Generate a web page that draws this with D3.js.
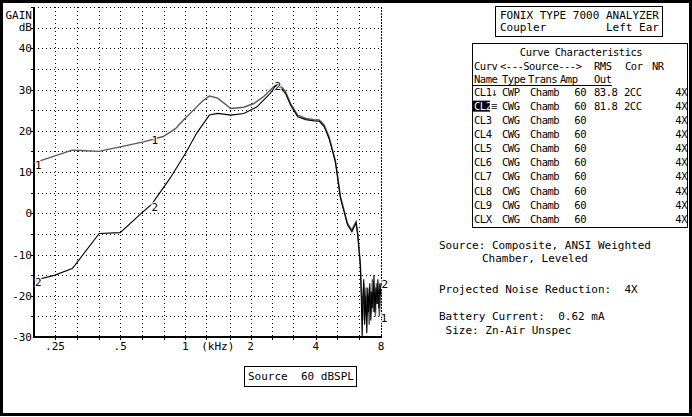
<!DOCTYPE html>
<html>
<head>
<meta charset="utf-8">
<script src="https://cdn.jsdelivr.net/npm/d3@7"></script>
<style>
  html, body { margin: 0; padding: 0; background: #fff; }
  svg { display: block; }
  text { font-family: "DejaVu Sans Mono", "Liberation Mono", monospace; font-size: 11px; fill: #000; white-space: pre; }
  .tbl text { font-size: 10.5px; letter-spacing: -0.5px; }
</style>
</head>
<body>
<div id="chart"></div>
<script>
// frequency response chart, FONIX 7000 style printout

/* data */
var gridFreqs = [0.25, 0.315, 0.4, 0.5, 0.63, 0.8, 1, 1.25, 1.6, 2, 2.5, 3.15, 4, 5, 6.3];
var freqTicks = [0.25, 0.5, 1, 2, 4, 8];
var freqTickLabels = [".25", ".5", "1", "2", "4", "8"];
var gainTicks = [40, 30, 20, 10, 0, -10, -20, -30];
var gainGrid = [45, 40, 35, 30, 25, 20, 15, 10, 5, 0, -5, -10, -15, -20, -25];

var curve1Freq = [0.2, 0.3, 0.33, 0.4, 0.45, 0.5, 0.64, 0.79, 0.9, 0.98, 1.09, 1.2, 1.29, 1.41, 1.62, 1.86, 2.07, 2.3, 2.56, 2.65, 2.8, 2.9, 3.06, 3.3, 3.6, 3.93, 4.15, 4.37, 4.6, 4.78, 4.92, 5.0, 5.2, 5.4, 5.6, 5.87, 6.0, 6.14, 6.25, 6.42,
  6.5, 6.58, 6.66, 6.74, 6.82, 6.9, 6.98, 7.06, 7.14, 7.22, 7.3, 7.38, 7.46, 7.54, 7.62, 7.7, 7.78, 7.86, 7.94, 8.0];
var curve1Gain = [12.2, 15.3, 15.2, 15.0, 15.6, 16.1, 17.3, 18.6, 20.5, 22.6, 25.0, 27.2, 28.4, 27.9, 25.4, 25.7, 26.6, 28.3, 30.7, 31.3, 30.5, 29.5, 26.6, 23.8, 23.0, 22.7, 22.6, 21.4, 18.6, 15.3, 12.9, 10.5, 4.0, 0.8, -2.4, -4.1, -3.0, -2.0, -5.0, -12.1,
  -19, -26, -17, -23, -18, -25, -20, -27, -19, -23, -16, -24, -20, -25, -17, -22, -19, -25, -21, -17];

var curve2Freq = [0.2, 0.25, 0.3, 0.31, 0.4, 0.5, 0.62, 0.7, 0.85, 1.0, 1.13, 1.29, 1.41, 1.62, 1.86, 2.14, 2.47, 2.62, 2.8, 2.9, 3.06, 3.3, 3.6, 3.93, 4.15, 4.37, 4.6, 4.78, 4.92, 5.0, 5.2, 5.4, 5.6, 5.87, 6.0, 6.14, 6.25, 6.42,
  6.47, 6.55, 6.6, 6.66, 6.72, 6.8, 6.88, 6.95, 7.02, 7.1, 7.18, 7.26, 7.34, 7.42, 7.5, 7.58, 7.66, 7.74, 7.82, 7.9, 8.0];
var curve2Gain = [-16.3, -15.0, -13.4, -12.5, -4.9, -4.7, -0.2, 2.2, 8.5, 14.5, 19.5, 23.8, 24.2, 23.8, 24.2, 25.8, 29.1, 31.0, 30.0, 29.0, 26.2, 23.4, 22.7, 22.4, 22.3, 21.0, 18.2, 15.0, 12.5, 10.0, 3.6, 0.4, -2.8, -4.5, -3.4, -2.4, -5.5, -12.5,
  -18, -30, -21, -16, -27, -20, -29, -18, -24, -17, -26, -19, -23, -15, -24, -18, -22, -16, -23, -17, -20];

/* curve number markers: [freq, gain, label, curve] */
var curveMarks = [
  [0.2, 11.8, "1", 1], [0.69, 17.8, "1", 1], [7.9, -25.3, "1", 1],
  [0.2, -16.6, "2", 2], [0.69, 1.6, "2", 2], [2.55, 30.8, "2", 2], [7.95, -17.2, "2", 2]
];

/* right-hand panel text */
var headerLines = ["FONIX TYPE 7000 ANALYZER", "Coupler         Left Ear"];
var curveNames = ["CL1", "CL2", "CL3", "CL4", "CL5", "CL6", "CL7", "CL8", "CL9", "CLX"];
var curveFlags = ["\u2193", "\u2261", "", "", "", "", "", "", "", ""];
var curveTypes = ["CWP", "CWG", "CWG", "CWG", "CWG", "CWG", "CWG", "CWG", "CWG", "CWG"];
var curveTrans = ["Chamb", "Chamb", "Chamb", "Chamb", "Chamb", "Chamb", "Chamb", "Chamb", "Chamb", "Chamb"];
var curveAmp = ["60", "60", "60", "60", "60", "60", "60", "60", "60", "60"];
var curveRms = ["83.8", "81.8", "", "", "", "", "", "", "", ""];
var curveCor = ["2CC", "2CC", "", "", "", "", "", "", "", ""];
var curveNr = ["4X", "4X", "4X", "4X", "4X", "4X", "4X", "4X", "4X", "4X"];
var activeCurve = 1;
var notes = [
  ["Source: Composite, ANSI Weighted", 439, 249],
  ["Chamber, Leveled", 482, 262],
  ["Projected Noise Reduction:  4X", 439, 293],
  ["Battery Current:  0.62 mA", 439, 320],
  [" Size: Zn-Air Unspec", 439, 334]
];

var W = 692, H = 417;
var plot = {left: 34, right: 381, top: 7, bottom: 337};

var svg = d3.select("#chart").append("svg")
    .attr("width", W)
    .attr("height", H);

/* outer frame */
svg.append("rect")
    .attr("x", 1.5).attr("y", 1.5)
    .attr("width", W - 3).attr("height", H - 4)
    .attr("fill", "none")
    .attr("stroke", "#000")
    .attr("stroke-width", 3);

var x = d3.scaleLog().domain([0.2, 8]).range([plot.left, plot.right]);
var y = d3.scaleLinear().domain([-30, 50]).range([plot.bottom, plot.top]);

/* dotted grid */
var grid = svg.append("g").attr("stroke", "#000").attr("stroke-width", 1).attr("stroke-dasharray", "1,3");
grid.selectAll("line.v").data(gridFreqs).enter().append("line")
    .attr("x1", function (d) { return Math.round(x(d)) + 0.5; })
    .attr("x2", function (d) { return Math.round(x(d)) + 0.5; })
    .attr("y1", plot.top).attr("y2", plot.bottom);
grid.selectAll("line.h").data(gainGrid).enter().append("line")
    .attr("x1", plot.left).attr("x2", plot.right)
    .attr("y1", function (d) { return Math.round(y(d)) + 0.5; })
    .attr("y2", function (d) { return Math.round(y(d)) + 0.5; });
/* top and right edges */
svg.append("line").attr("x1", plot.left).attr("x2", plot.right).attr("y1", plot.top + 0.5).attr("y2", plot.top + 0.5)
    .attr("stroke", "#000").attr("stroke-dasharray", "1,3");
svg.append("line").attr("x1", plot.right + 0.5).attr("x2", plot.right + 0.5).attr("y1", plot.top).attr("y2", plot.bottom)
    .attr("stroke", "#000").attr("stroke-dasharray", "2,1");

/* axes lines with little ticks */
svg.append("line").attr("x1", plot.left).attr("x2", plot.left).attr("y1", plot.top).attr("y2", plot.bottom + 1)
    .attr("stroke", "#000").attr("stroke-width", 2);
svg.append("line").attr("x1", plot.left).attr("x2", plot.right + 1).attr("y1", plot.bottom).attr("y2", plot.bottom)
    .attr("stroke", "#000").attr("stroke-width", 2);
svg.append("g").selectAll("line").data(gainGrid.concat([50])).enter().append("line")
    .attr("x1", plot.left - 3).attr("x2", plot.left)
    .attr("y1", function (d) { return Math.round(y(d)) + 0.5; })
    .attr("y2", function (d) { return Math.round(y(d)) + 0.5; })
    .attr("stroke", "#000");
svg.append("g").selectAll("line").data(gridFreqs).enter().append("line")
    .attr("x1", function (d) { return Math.round(x(d)) + 0.5; })
    .attr("x2", function (d) { return Math.round(x(d)) + 0.5; })
    .attr("y1", plot.bottom).attr("y2", plot.bottom + 3)
    .attr("stroke", "#000");

/* tick labels */
svg.append("g").selectAll("text").data(gainTicks).enter().append("text")
    .attr("x", plot.left - 2)
    .attr("y", function (d) { return y(d) + 4; })
    .attr("text-anchor", "end")
    .text(function (d) { return d; });
svg.append("g").selectAll("text").data(freqTicks).enter().append("text")
    .attr("x", function (d) { return x(d); })
    .attr("y", plot.bottom + 13)
    .attr("text-anchor", "middle")
    .text(function (d, i) { return freqTickLabels[i]; });
svg.append("text").attr("x", x(1.41)).attr("y", plot.bottom + 13).attr("text-anchor", "middle").text("(kHz)");
svg.append("text").attr("x", plot.left - 2).attr("y", 19).attr("text-anchor", "end").text("GAIN");
svg.append("text").attr("x", plot.left - 2).attr("y", 31).attr("text-anchor", "end").text("dB");

/* curves */
function pairs(fs, gs) {
  return fs.map(function (f, i) { return [f, gs[i]]; });
}
var line = d3.line()
    .x(function (d) { return x(d[0]); })
    .y(function (d) { return y(d[1]); });
svg.append("path")
    .attr("d", line(pairs(curve1Freq, curve1Gain)))
    .attr("fill", "none")
    .attr("stroke", "#5a5a5a")
    .attr("stroke-width", 1.4);
svg.append("path")
    .attr("d", line(pairs(curve2Freq, curve2Gain)))
    .attr("fill", "none")
    .attr("stroke", "#000")
    .attr("stroke-width", 1.1);

/* curve number markers */
svg.append("g").selectAll("text").data(curveMarks).enter().append("text")
    .attr("x", function (d) { return x(d[0]) + 1; })
    .attr("y", function (d) { return y(d[1]) + 4; })
    .attr("stroke", "#fff")
    .attr("stroke-width", 2)
    .attr("paint-order", "stroke")
    .text(function (d) { return d[2]; });

/* source level box */
svg.append("rect").attr("x", 244.5).attr("y", 366.5).attr("width", 112).attr("height", 20)
    .attr("fill", "none").attr("stroke", "#000");
svg.append("text").attr("x", 248).attr("y", 380).text("Source  60 dBSPL");

/* analyzer header box */
svg.append("rect").attr("x", 495.5).attr("y", 6.5).attr("width", 167).attr("height", 30)
    .attr("fill", "none").attr("stroke", "#000");
svg.append("g").selectAll("text").data(headerLines).enter().append("text")
    .attr("x", 500)
    .attr("y", function (d, i) { return 19 + i * 12; })
    .text(function (d) { return d; });

/* curve characteristics table */
var table = svg.append("g").attr("class", "tbl");
table.append("rect").attr("x", 472.5).attr("y", 43.5).attr("width", 215).attr("height", 184)
    .attr("fill", "none").attr("stroke", "#000");
table.append("text").attr("x", 581).attr("y", 56).attr("text-anchor", "middle").text("Curve Characteristics");
var headRow1 = [["Curv", 474], ["<---Source--->", 500], ["RMS", 594], ["Cor", 625], ["NR", 652]];
var headRow2 = [["Name", 474], ["Type", 502], ["Trans", 528], ["Amp", 560], ["Out", 594]];
table.append("g").selectAll("text").data(headRow1).enter().append("text")
    .attr("x", function (d) { return d[1]; }).attr("y", 70)
    .text(function (d) { return d[0]; });
table.append("g").selectAll("text").data(headRow2).enter().append("text")
    .attr("x", function (d) { return d[1]; }).attr("y", 83)
    .text(function (d) { return d[0]; });
table.append("line").attr("x1", 473).attr("x2", 612).attr("y1", 85.5).attr("y2", 85.5).attr("stroke", "#000");

var rowY = function (i) { return 95.5 + i * 14.15; };
/* highlighted current curve */
table.append("rect").attr("x", 473).attr("y", rowY(activeCurve) - 9).attr("width", 17).attr("height", 11).attr("fill", "#000");

var cols = [
  {vals: curveNames, x: 474, anchor: "start"},
  {vals: curveFlags, x: 491, anchor: "start"},
  {vals: curveTypes, x: 502, anchor: "start"},
  {vals: curveTrans, x: 530, anchor: "start"},
  {vals: curveAmp, x: 586, anchor: "end"},
  {vals: curveRms, x: 594, anchor: "start"},
  {vals: curveCor, x: 624, anchor: "start"},
  {vals: curveNr, x: 687, anchor: "end"}
];
cols.forEach(function (c) {
  table.append("g").selectAll("text").data(c.vals).enter().append("text")
      .attr("x", c.x)
      .attr("y", function (d, i) { return rowY(i); })
      .attr("text-anchor", c.anchor)
      .style("fill", function (d, i) { return (c.vals === curveNames && i === activeCurve) ? "#fff" : "#000"; })
      .text(function (d) { return d; });
});

/* notes under the table */
svg.append("g").selectAll("text").data(notes).enter().append("text")
    .attr("x", function (d) { return d[1]; })
    .attr("y", function (d) { return d[2]; })
    .text(function (d) { return d[0]; });
</script>
</body>
</html>
